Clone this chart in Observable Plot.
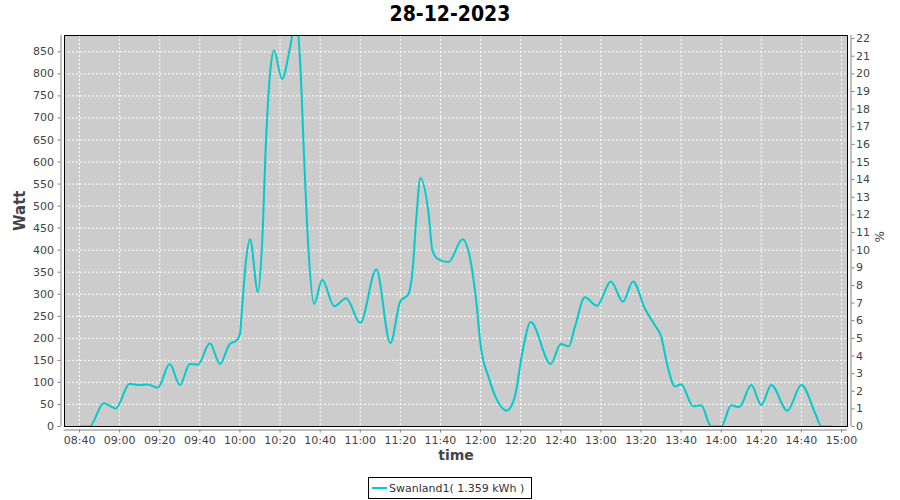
<!DOCTYPE html>
<html><head><meta charset="utf-8">
<script src="https://cdn.jsdelivr.net/npm/d3@7"></script>
<script src="https://cdn.jsdelivr.net/npm/@observablehq/plot@0.6"></script>
<style>
body{margin:0;background:#fff;}
#wrap{position:relative;width:900px;height:500px;font-family:"DejaVu Sans",sans-serif;}
#title{position:absolute;left:0;top:0;width:900px;text-align:center;font-weight:bold;font-size:21px;line-height:28px;color:#000;font-family:"DejaVu Sans Condensed","DejaVu Sans",sans-serif;}
#legend{position:absolute;left:368px;top:477px;width:162px;height:20px;border:1px solid #000;display:flex;align-items:center;font-size:11px;color:#333;background:#fff;}
#legend .sw{display:inline-block;width:15px;height:2px;background:#00cccc;margin-left:3px;margin-right:2px;}
</style></head><body>
<div id="wrap"><div id="chart"></div><div id="title">28-12-2023</div><div id="legend"><span class="sw"></span><span>Swanland1( 1.359 kWh )</span></div></div>
<script>
const times = ["08:40","08:45","08:52","08:58","09:05","09:10","09:14","09:19","09:25","09:30","09:35","09:39","09:45","09:50","09:55","09:58","10:00","10:01","10:03","10:05","10:09","10:11","10:13","10:15","10:17","10:21","10:25","10:28","10:30","10:32","10:34","10:37","10:41","10:47","10:53","11:00","11:08","11:15","11:20","11:24","11:26","11:28","11:30","11:34","11:36","11:39","11:44","11:51","11:55","11:58","12:00","12:04","12:08","12:13","12:17","12:21","12:25","12:35","12:40","12:44","12:47","12:52","12:58","13:05","13:11","13:16","13:22","13:27","13:30","13:33","13:37","13:40","13:46","13:50","13:55","14:00","14:05","14:09","14:15","14:20","14:25","14:33","14:40","14:47","14:50","14:55"];
const watts = [0,0,53,41,97,94,95,88,142,94,142,140,189,142,188,194,210,265,375,425,305,410,648,800,853,788,860,925,830,610,415,278,333,273,291,235,356,189,284,300,350,475,564,486,399,379,373,425,376,278,185,112,62,36,66,172,237,142,187,182,225,293,274,329,283,329,267,229,205,142,91,96,46,48,0,0,48,44,94,49,94,36,94,29,0,0];
const xTickLabels = ["08:40","09:00","09:20","09:40","10:00","10:20","10:40","11:00","11:20","11:40","12:00","12:20","12:40","13:00","13:20","13:40","14:00","14:20","14:40","15:00"];
const wattTicks = [0,50,100,150,200,250,300,350,400,450,500,550,600,650,700,750,800,850];
const pctTicks = [0,1,2,3,4,5,6,7,8,9,10,11,12,13,14,15,16,17,18,19,20,21,22];
const wattsPerPct = 40;
const xStart = "08:32:30", xEnd = "15:03:00";
const yMax = 887;

const parse = d3.utcParse("%H:%M");
const parseS = d3.utcParse("%H:%M:%S");
const data = times.map((t, i) => ({t: parse(t), w: watts[i]}));
const xTicks = xTickLabels.map(parse);
const x0 = parseS(xStart), x1 = parseS(xEnd);
const axisGray = "#808080";
const labelStyle = {fontSize: 14, fontWeight: "bold", fill: "#444"};

const plot = Plot.plot({
  width: 900, height: 500,
  marginLeft: 64, marginRight: 53, marginTop: 35, marginBottom: 74,
  style: {fontFamily: "DejaVu Sans, sans-serif", fontSize: "11px", color: "#444", background: "#fff"},
  x: {type: "utc", domain: [x0, x1]},
  y: {domain: [0, yMax]},
  marks: [
    Plot.frame({fill: "#cccccc", stroke: null}),
    Plot.gridX({ticks: xTicks, stroke: "#fff", strokeOpacity: 1, strokeDasharray: "2,2"}),
    Plot.gridY({ticks: wattTicks, stroke: "#fff", strokeOpacity: 1, strokeDasharray: "2,2"}),
    Plot.line(data, {x: "t", y: "w", curve: "monotone-x", stroke: "#00cccc", strokeWidth: 2, clip: true}),
    Plot.frame({stroke: "#000", strokeWidth: 1}),
    Plot.axisX({ticks: xTicks, tickFormat: d3.utcFormat("%H:%M"), tickSize: 3, tickPadding: 3, dy: 3.5, stroke: axisGray, label: null}),
    Plot.axisY({anchor: "left", ticks: wattTicks, tickSize: 3, tickPadding: 4, dx: -3.5, stroke: axisGray, label: null}),
    Plot.axisY({anchor: "right", ticks: pctTicks.map(p => p * wattsPerPct), tickFormat: d => String(d / wattsPerPct), tickSize: 3, tickPadding: 2, dx: 3.5, stroke: axisGray, label: null}),
    Plot.ruleX([x0], {dx: -3.5, stroke: axisGray}),
    Plot.ruleX([x1], {dx: 3.5, stroke: axisGray}),
    Plot.ruleY([0], {dy: 3.5, stroke: axisGray}),
    Plot.text(["Watt"], {frameAnchor: "left", dx: -44, rotate: -90, ...labelStyle, fontSize: 15}),
    Plot.text(["%"], {frameAnchor: "right", dx: 33, rotate: -90, ...labelStyle, fontWeight: "normal", fontSize: 12}),
    Plot.text(["time"], {frameAnchor: "bottom", dy: 33.5, ...labelStyle})
  ]
});
document.getElementById("chart").appendChild(plot);
</script>
</body></html>
